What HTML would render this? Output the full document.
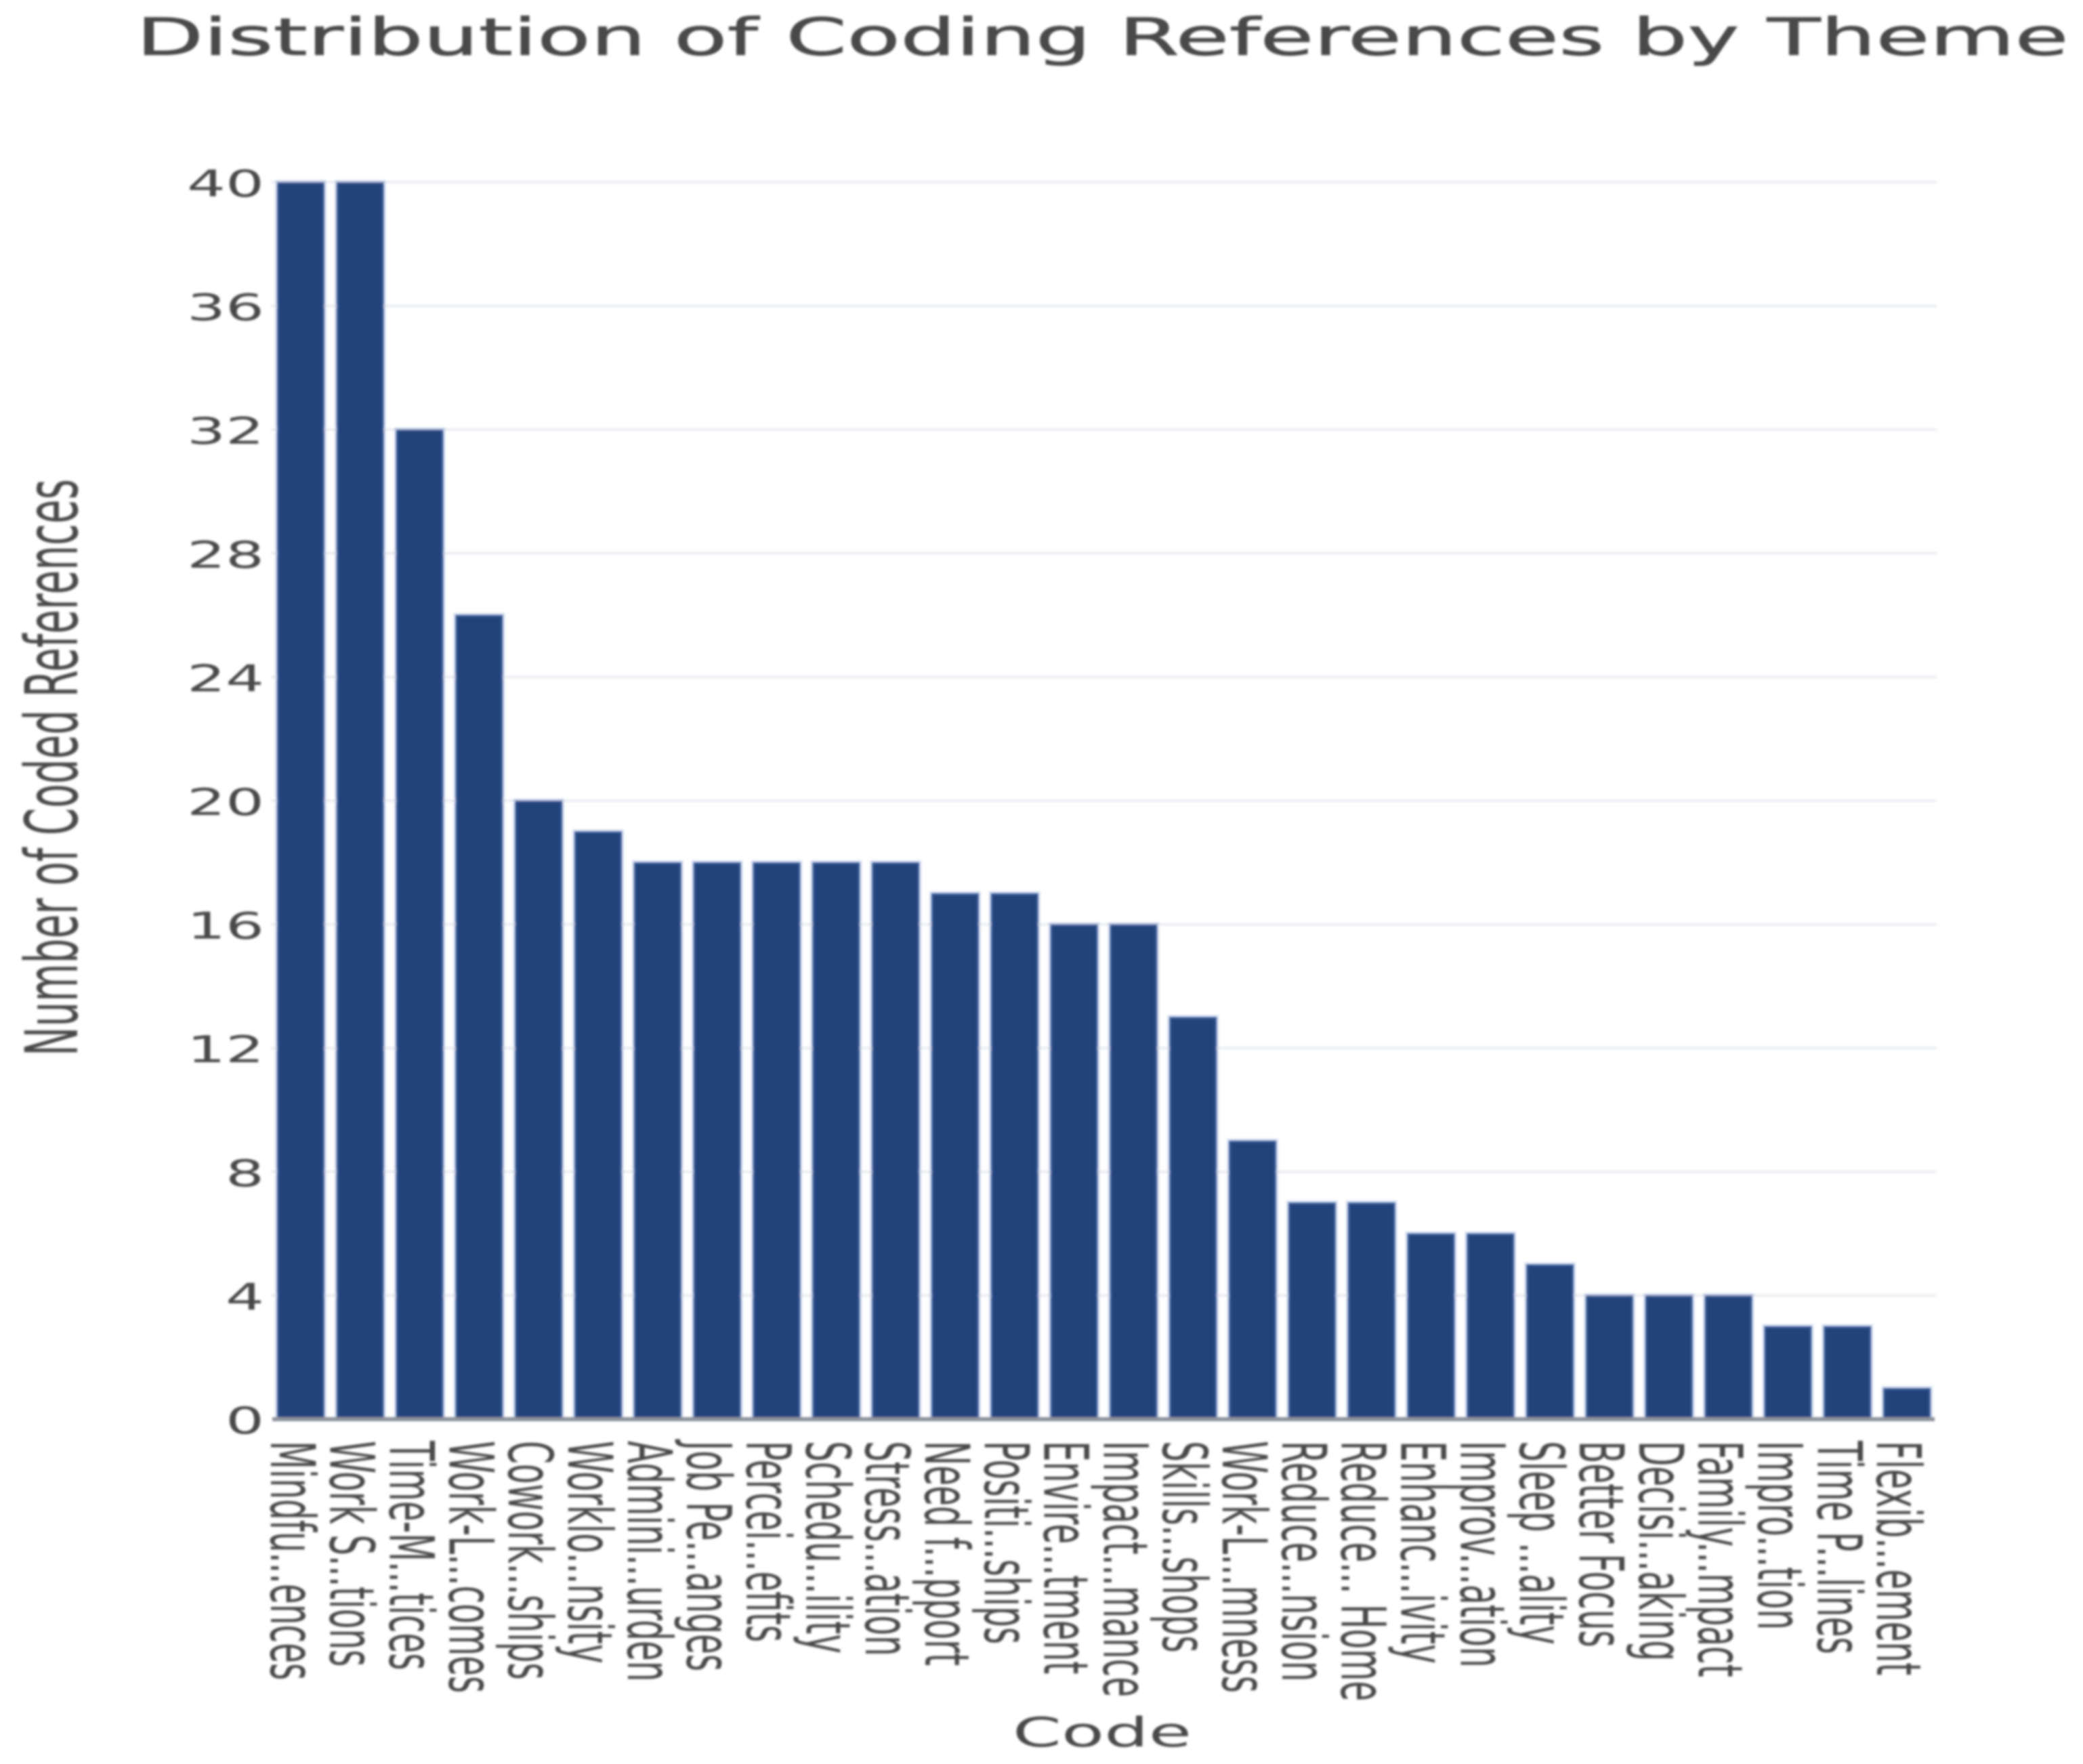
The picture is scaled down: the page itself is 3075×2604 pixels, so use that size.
<!DOCTYPE html>
<html lang="en">
<head>
<meta charset="utf-8">
<title>Distribution of Coding References by Theme</title>
<style>
html,body{margin:0;padding:0;background:#fff;}
body{width:3075px;height:2604px;overflow:hidden;}
svg{display:block;}
text{font-family:"DejaVu Sans","Liberation Sans",sans-serif;fill:#4a4a4a;}
</style>
</head>
<body>
<svg id="chart" xmlns="http://www.w3.org/2000/svg" width="3075" height="2604" viewBox="0 0 3075 2604">
  <defs>
    <filter id="soft" x="-2%" y="-2%" width="104%" height="104%"><feGaussianBlur stdDeviation="1.5"/></filter>
  </defs>
  <rect width="3075" height="2604" fill="#ffffff"/>
  <g id="root" filter="url(#soft)">
    <g id="grid"></g>
    <g id="bars"></g>
    <g id="yticks"></g>
    <g id="xticks"></g>
    <text transform="translate(201,81) scale(1.698,1)" font-size="76" stroke="#4a4a4a" stroke-width="0.8">Distribution of Coding References by Theme</text>
    <text transform="translate(114,1133) scale(1.85,1) rotate(-90)" font-size="58" text-anchor="middle">Number of Coded References</text>
    <text transform="translate(1627,2578) scale(1.72,1)" font-size="60" text-anchor="middle">Code</text>
  </g>
</svg>
<script>
const categories = ["Mindfu...ences","Work S...tions","Time-M...tices","Work-L...comes","Cowork...ships","Worklo...nsity","Admini...urden","Job Pe...anges","Percei...efits","Schedu...ility","Stress...ation","Need f...pport","Positi...ships","Envire...tment","Impact...mance","Skills...shops","Work-L...mness","Reduce...nsion","Reduce... Home","Enhanc...ivity","Improv...ation","Sleep ...ality","Better Focus","Decisi...aking","Family...mpact","Impro...tion","Time P...lines","Flexib...ement"];
const values = [40,40,32,26,20,19,18,18,18,18,18,17,17,16,16,13,9,7,7,6,6,5,4,4,4,3,3,1];
const yTickValues = [0,4,8,12,16,20,24,28,32,36,40];

const NS = 'http://www.w3.org/2000/svg';
const plotLeft = 400, plotRight = 2859, plotTop = 269, plotBottom = 2095, yMax = 40;
const band = (plotRight - plotLeft) / categories.length;
const barWidth = band * 0.79;
const xScale = i => plotLeft + band * (i + 0.5);
const yScale = v => plotBottom - (v / yMax) * (plotBottom - plotTop);
function make(tag, parent){
  const el = document.createElementNS(NS, tag);
  document.getElementById(parent).appendChild(el);
  return el;
}

yTickValues.forEach(v => {
  if (v !== 0) {
    const line = make('line', 'grid');
    
    
    line.setAttribute('x1', plotLeft);
    line.setAttribute('x2', plotRight);
    line.setAttribute('y1', yScale(v));
    line.setAttribute('y2', yScale(v));
    line.setAttribute('stroke', '#eceef3');
    line.setAttribute('stroke-width', '4');
  }
  const label = make('text', 'yticks');
  
  
  label.setAttribute('transform', 'translate(390,' + (yScale(v) + 21) + ') scale(1.66,1)');
  label.setAttribute('font-size', '54');
  label.setAttribute('text-anchor', 'end');
  label.textContent = String(v);
});

values.forEach((v, i) => {
  const bar = make('rect', 'bars');
  
  
  bar.setAttribute('x', xScale(i) - barWidth / 2);
  bar.setAttribute('width', barWidth);
  bar.setAttribute('y', yScale(v));
  bar.setAttribute('height', plotBottom - yScale(v));
  bar.setAttribute('fill', '#24427a');
  bar.setAttribute('stroke', 'rgba(90,125,195,0.3)');
  bar.setAttribute('stroke-width', '6');
  const label = make('text', 'xticks');
  
  
  label.setAttribute('transform', 'translate(' + (xScale(i) - 44) + ',2127) scale(1.87,1) rotate(90)');
  label.setAttribute('font-size', '48.5');
  label.textContent = categories[i];
});

const axis = make('line', 'grid');


axis.setAttribute('x1', plotLeft + 2);
axis.setAttribute('x2', plotRight - 3);
axis.setAttribute('y1', plotBottom);
axis.setAttribute('y2', plotBottom);
axis.setAttribute('stroke', '#8d929b');
axis.setAttribute('stroke-width', '6');
document.getElementById('root').appendChild(axis);
</script>
</body>
</html>
